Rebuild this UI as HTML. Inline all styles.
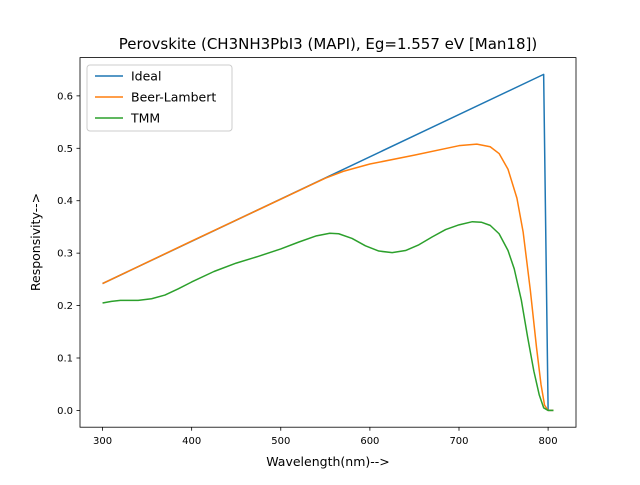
<!DOCTYPE html>
<html><head><meta charset="utf-8"><style>
body{margin:0;background:#fff;}
svg text{font-family:"DejaVu Sans","Liberation Sans",sans-serif;}
</style></head><body>
<svg id="chart" width="640" height="480" viewBox="0 0 640 480">
<rect width="640" height="480" fill="#fff"/>
<text x="328" y="49" font-size="15" text-anchor="middle">Perovskite (CH3NH3PbI3 (MAPI), Eg=1.557 eV [Man18])</text>
<g id="axes"></g>
<g id="series"></g>
<rect x="80" y="57.6" width="496" height="369.6" fill="none" stroke="#000" stroke-width="0.8"/>
<g>
<rect x="87" y="65" width="145" height="66" rx="3" fill="#fff" fill-opacity="0.8" stroke="#ccc"/>
<line x1="95" x2="123" y1="76" y2="76" stroke="#1f77b4" stroke-width="1.5"/>
<text x="131" y="80.5" font-size="12.5">Ideal</text>
<line x1="95" x2="123" y1="97" y2="97" stroke="#ff7f0e" stroke-width="1.5"/>
<text x="131" y="101.5" font-size="12.5">Beer-Lambert</text>
<line x1="95" x2="123" y1="118" y2="118" stroke="#2ca02c" stroke-width="1.5"/>
<text x="131" y="122.5" font-size="12.5">TMM</text>
</g>
<text x="328" y="466" font-size="12.5" text-anchor="middle">Wavelength(nm)--&gt;</text>
<text x="40" y="242" font-size="12.5" text-anchor="middle" transform="rotate(-90 40 242)">Responsivity--&gt;</text>
</svg>
<script>
const xTicks=[300,400,500,600,700,800];
const yTicks=[0,0.1,0.2,0.3,0.4,0.5,0.6];
const yTickLabels=["0.0","0.1","0.2","0.3","0.4","0.5","0.6"];
const idealX=[300,795,800,806];
const idealY=[0.242,0.641,0,0];
const blX=[300,400,500,530,550,570,600,650,700,720,735,745,755,765,772,780,787,792,796,800,806];
const blY=[0.242,0.323,0.403,0.427,0.443,0.456,0.470,0.487,0.505,0.508,0.503,0.490,0.460,0.405,0.340,0.230,0.120,0.050,0.010,0,0];
const tmmX=[300,310,320,340,355,370,385,400,425,450,475,500,520,540,555,565,580,595,610,625,640,655,670,685,700,715,725,735,745,755,762,770,777,784,790,795,800,806];
const tmmY=[0.205,0.208,0.210,0.210,0.213,0.220,0.232,0.245,0.265,0.281,0.294,0.308,0.321,0.333,0.338,0.337,0.328,0.314,0.304,0.301,0.305,0.316,0.331,0.345,0.354,0.360,0.359,0.353,0.337,0.305,0.270,0.210,0.140,0.075,0.030,0.005,0,0];
const X0=274.7,X1=831.3,Y0=-0.032,Y1=0.673;
const sx=v=>80+(v-X0)/(X1-X0)*496;
const sy=v=>427.2-(v-Y0)/(Y1-Y0)*369.6;
const NS="http://www.w3.org/2000/svg";
const ax=document.getElementById('axes'),se=document.getElementById('series');
function mk(tag,attrs,parent){const e=document.createElementNS(NS,tag);for(const k in attrs)e.setAttribute(k,attrs[k]);parent.appendChild(e);return e;}
xTicks.forEach(t=>{
const l=mk('line',{x1:sx(t),x2:sx(t),y1:427.2,y2:430.7,stroke:'#000','stroke-width':0.8},ax);


const tx=mk('text',{x:sx(t),y:444,'font-size':10,'text-anchor':'middle'},ax);tx.textContent=t;


});
yTicks.forEach((t,i)=>{
const l=mk('line',{x1:76.5,x2:80,y1:sy(t),y2:sy(t),stroke:'#000','stroke-width':0.8},ax);


const tx=mk('text',{x:73,y:sy(t)+3.5,'font-size':10,'text-anchor':'end'},ax);tx.textContent=yTickLabels[i];


});
function line(xs,ys,c,name){
const p=mk('polyline',{points:xs.map((x,i)=>sx(x)+','+sy(ys[i])).join(' '),fill:'none',stroke:c,'stroke-width':1.5,'stroke-linejoin':'round'},se);


}
line(idealX,idealY,'#1f77b4','ideal-line');
line(blX,blY,'#ff7f0e','beer-lambert-line');
line(tmmX,tmmY,'#2ca02c','tmm-line');
</script>
</body></html>
